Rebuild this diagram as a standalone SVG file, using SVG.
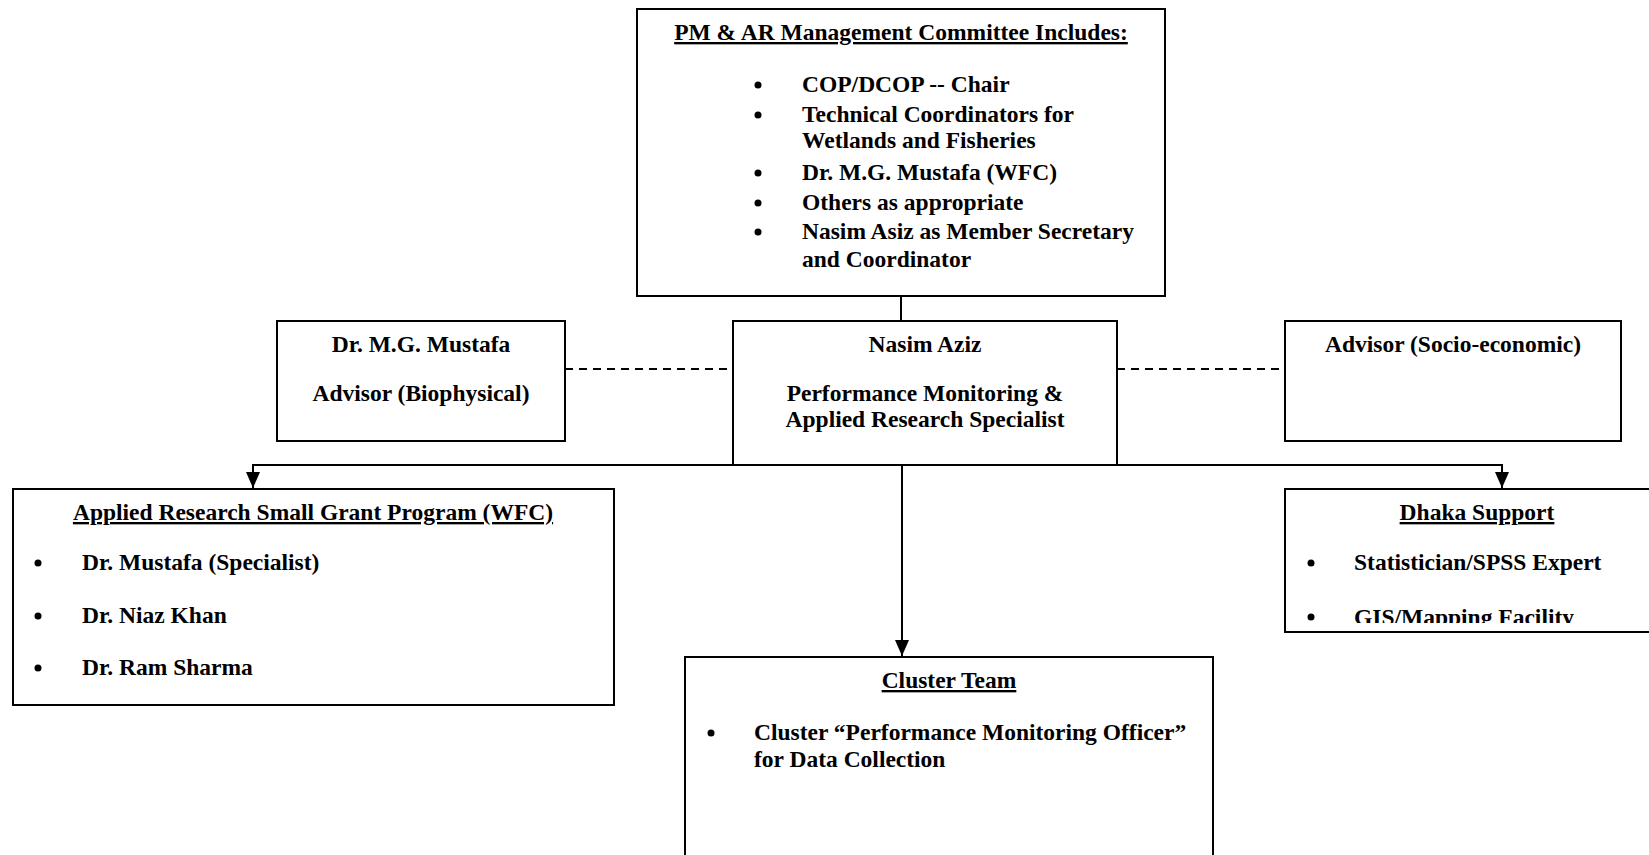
<svg xmlns="http://www.w3.org/2000/svg" width="1649" height="855" viewBox="0 0 1649 855">
  <style>
    .box { fill: #ffffff; stroke: #000000; stroke-width: 2; }
    .t { font-family: "Liberation Serif", "Times New Roman", serif; font-weight: bold; font-size: 23.5px; fill: #000000; }
    .c { text-anchor: middle; }
    .u { text-decoration: underline; }
    .conn { fill: none; stroke: #000000; stroke-width: 2; }
    .dash { fill: none; stroke: #000000; stroke-width: 2; stroke-dasharray: 8 6; }
    .bul { fill: #000000; }
  </style>
  <defs>
    <marker id="arrow" markerUnits="userSpaceOnUse" markerWidth="16" markerHeight="14" viewBox="0 0 16 14" refX="16" refY="7" orient="auto">
      <path d="M0,0 L16,7 L0,14 z" fill="#000000"/>
    </marker>
    <clipPath id="dhakaClip">
      <rect x="1285" y="489" width="380" height="134"/>
    </clipPath>
  </defs>
  <rect x="0" y="0" width="1649" height="855" fill="#ffffff"/>

  <g id="connectors">
    <path class="conn" d="M901,296 V321"/>
    <path class="conn" d="M902,465 H253 V488" marker-end="url(#arrow)"/>
    <path class="conn" d="M902,465 H1502 V488" marker-end="url(#arrow)"/>
    <path class="conn" d="M902,465 V656" marker-end="url(#arrow)"/>
    <path class="dash" d="M565,369 H733"/>
    <path class="dash" d="M1117,369 H1285"/>
  </g>

  <g id="committee">
    <rect class="box" x="637" y="9" width="528" height="287"/>
    <text class="t c u" x="901" y="40">PM &amp; AR Management Committee Includes:</text>
    <circle class="bul" cx="758" cy="85" r="3.5"/>
    <text class="t" x="802" y="92">COP/DCOP -- Chair</text>
    <circle class="bul" cx="758" cy="115" r="3.5"/>
    <text class="t" x="802" y="122">Technical Coordinators for</text>
    <text class="t" x="802" y="148">Wetlands and Fisheries</text>
    <circle class="bul" cx="758" cy="173" r="3.5"/>
    <text class="t" x="802" y="180">Dr. M.G. Mustafa (WFC)</text>
    <circle class="bul" cx="758" cy="203" r="3.5"/>
    <text class="t" x="802" y="210">Others as appropriate</text>
    <circle class="bul" cx="758" cy="232" r="3.5"/>
    <text class="t" x="802" y="239">Nasim Asiz as Member Secretary</text>
    <text class="t" x="802" y="267">and Coordinator</text>
  </g>

  <g id="advisor-biophysical">
    <rect class="box" x="277" y="321" width="288" height="120"/>
    <text class="t c" x="421" y="352">Dr. M.G. Mustafa</text>
    <text class="t c" x="421" y="401">Advisor (Biophysical)</text>
  </g>

  <g id="nasim-aziz">
    <rect class="box" x="733" y="321" width="384" height="144"/>
    <text class="t c" x="925" y="352">Nasim Aziz</text>
    <text class="t c" x="925" y="401">Performance Monitoring &amp;</text>
    <text class="t c" x="925" y="427">Applied Research Specialist</text>
  </g>

  <g id="advisor-socioeconomic">
    <rect class="box" x="1285" y="321" width="336" height="120"/>
    <text class="t c" x="1453" y="352">Advisor (Socio-economic)</text>
  </g>

  <g id="small-grant">
    <rect class="box" x="13" y="489" width="601" height="216"/>
    <text class="t c u" x="313" y="520">Applied Research Small Grant Program (WFC)</text>
    <circle class="bul" cx="38" cy="563" r="3.5"/>
    <text class="t" x="82" y="570">Dr. Mustafa (Specialist)</text>
    <circle class="bul" cx="38" cy="616" r="3.5"/>
    <text class="t" x="82" y="623">Dr. Niaz Khan</text>
    <circle class="bul" cx="38" cy="668" r="3.5"/>
    <text class="t" x="82" y="675">Dr. Ram Sharma</text>
  </g>

  <g id="dhaka-support">
    <rect class="box" x="1285" y="489" width="380" height="143"/>
    <text class="t c u" x="1477" y="520">Dhaka Support</text>
    <circle class="bul" cx="1311" cy="563" r="3.5"/>
    <text class="t" x="1354" y="570">Statistician/SPSS Expert</text>
    <circle class="bul" cx="1311" cy="617" r="3.5"/>
    <text class="t" x="1354" y="625" clip-path="url(#dhakaClip)">GIS/Mapping Facility</text>
  </g>

  <g id="cluster-team">
    <rect class="box" x="685" y="657" width="528" height="220"/>
    <text class="t c u" x="949" y="688">Cluster Team</text>
    <circle class="bul" cx="711" cy="733" r="3.5"/>
    <text class="t" x="754" y="740">Cluster “Performance Monitoring Officer”</text>
    <text class="t" x="754" y="767">for Data Collection</text>
  </g>
</svg>
